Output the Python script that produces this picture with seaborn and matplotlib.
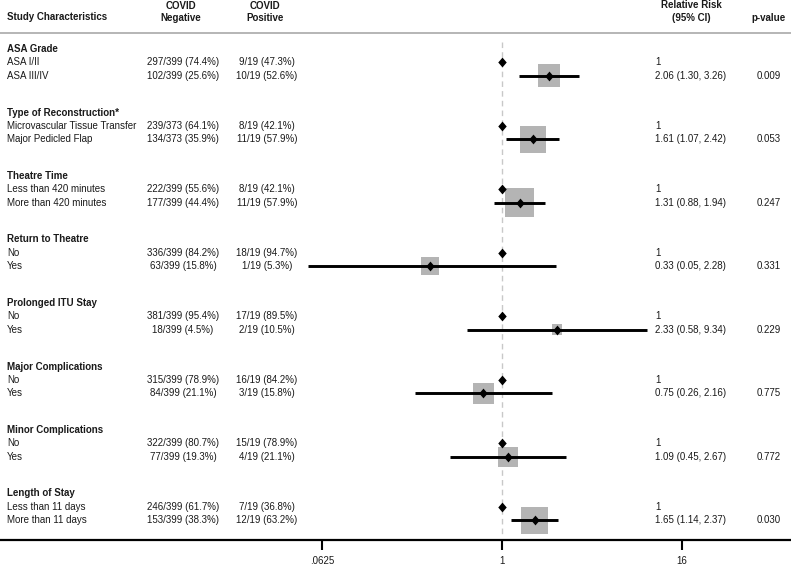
import numpy as np
import pandas as pd
import matplotlib
matplotlib.use("Agg")
import matplotlib.pyplot as plt
import seaborn as sns

# data
groups = ["ASA Grade", "Type of Reconstruction*", "Theatre Time", "Return to Theatre",
          "Prolonged ITU Stay", "Major Complications", "Minor Complications", "Length of Stay"]
ref_labels = ["ASA I/II", "Microvascular Tissue Transfer", "Less than 420 minutes",
              "No", "No", "No", "No", "Less than 11 days"]
cmp_labels = ["ASA III/IV", "Major Pedicled Flap", "More than 420 minutes",
              "Yes", "Yes", "Yes", "Yes", "More than 11 days"]
neg_ref = ["297/399 (74.4%)", "239/373 (64.1%)", "222/399 (55.6%)", "336/399 (84.2%)",
           "381/399 (95.4%)", "315/399 (78.9%)", "322/399 (80.7%)", "246/399 (61.7%)"]
neg_cmp = ["102/399 (25.6%)", "134/373 (35.9%)", "177/399 (44.4%)", "63/399 (15.8%)",
           "18/399 (4.5%)", "84/399 (21.1%)", "77/399 (19.3%)", "153/399 (38.3%)"]
pos_ref = ["9/19 (47.3%)", "8/19 (42.1%)", "8/19 (42.1%)", "18/19 (94.7%)",
           "17/19 (89.5%)", "16/19 (84.2%)", "15/19 (78.9%)", "7/19 (36.8%)"]
pos_cmp = ["10/19 (52.6%)", "11/19 (57.9%)", "11/19 (57.9%)", "1/19 (5.3%)",
           "2/19 (10.5%)", "3/19 (15.8%)", "4/19 (21.1%)", "12/19 (63.2%)"]
rr = [2.06, 1.61, 1.31, 0.33, 2.33, 0.75, 1.09, 1.65]
rr_lo = [1.30, 1.07, 0.88, 0.05, 0.58, 0.26, 0.45, 1.14]
rr_hi = [3.26, 2.42, 1.94, 2.28, 9.34, 2.16, 2.67, 2.37]
pvals = ["0.009", "0.053", "0.247", "0.331", "0.229", "0.775", "0.772", "0.030"]
weights = [12.6, 17.5, 20.6, 7.9, 2.8, 10.8, 9.8, 17.9]
tick_vals = [0.0625, 1, 16]
tick_labels = [".0625", "1", "16"]

sns.set_style("white")
plt.rcParams['font.family'] = ['Liberation Sans', 'DejaVu Sans']
plt.rcParams['font.size'] = 7

W, H = 791, 565
fig = plt.figure(figsize=(W / 100, H / 100), dpi=100)
ax = fig.add_axes([0, 0, 1, 1])
ax.set_xscale('log', base=2)
# 1 sits at x=502px, 45px per doubling; y runs in pixel rows from the top
ax.set_xlim(2 ** (-502 / 45), 2 ** ((W - 502) / 45))
ax.set_ylim(H, 0)
ax.axis('off')

# layout of rows
g_idx = np.arange(len(groups))
y_title = 49 + 63.5 * g_idx
y_ref = y_title + 13.3
y_cmp = y_title + 26.7

df = pd.DataFrame({'rr': rr, 'lo': rr_lo, 'hi': rr_hi, 'w': weights, 'y': y_cmp})
ref_df = pd.DataFrame({'rr': np.ones(len(groups)), 'y': y_ref})

# slightly tall diamond like the stata one
diamond = [(0, -1.1), (0.95, 0), (0, 1.1), (-0.95, 0), (0, -1.1)]

# reference line at RR = 1
ax.vlines(1, 42, 536, color='#c8c8c8', lw=1, linestyles=(0, (4, 3)), zorder=1)

# weight boxes
k = 21.2
sns.scatterplot(data=df, x='rr', y='y', size='w',
                sizes=(min(weights) * k, max(weights) * k),
                marker='s', color='#b4b4b4', linewidth=0, legend=False, ax=ax, zorder=2)
# confidence intervals
ax.hlines(df['y'], df['lo'], df['hi'], color='black', lw=2.1, zorder=3)
# point estimates
sns.scatterplot(data=df, x='rr', y='y', marker=diamond, s=50, color='black',
                linewidth=0, legend=False, ax=ax, zorder=4)
sns.scatterplot(data=ref_df, x='rr', y='y', marker=diamond, s=50, color='black',
                linewidth=0, legend=False, ax=ax, zorder=4)

tr = ax.get_yaxis_transform()
tc = '#1a1a1a'

def txt(xpx, y, s, ha='left', bold=False):
    ax.text(xpx / W, y, s, transform=tr, ha=ha, va='center', color=tc,
            fontweight='bold' if bold else 'normal')

# header
txt(7, 17.5, "Study Characteristics", bold=True)
txt(181, 6, "COVID", ha='center', bold=True)
txt(181, 18, "Negative", ha='center', bold=True)
txt(265, 6, "COVID", ha='center', bold=True)
txt(265, 18, "Positive", ha='center', bold=True)
txt(691, 5, "Relative Risk", ha='center', bold=True)
txt(691, 18, "(95% CI)", ha='center', bold=True)
txt(769, 18, "p-value", ha='center', bold=True)
ax.axhline(33, color='#b0b0b0', lw=1.3)

for i in g_idx:
    txt(7, y_title[i], groups[i], bold=True)
    txt(7, y_ref[i], ref_labels[i])
    txt(7, y_cmp[i], cmp_labels[i])
    txt(183, y_ref[i], neg_ref[i], ha='center')
    txt(183, y_cmp[i], neg_cmp[i], ha='center')
    txt(267, y_ref[i], pos_ref[i], ha='center')
    txt(267, y_cmp[i], pos_cmp[i], ha='center')
    txt(655, y_ref[i], "1")
    txt(655, y_cmp[i], f"{rr[i]:.2f} ({rr_lo[i]:.2f}, {rr_hi[i]:.2f})")
    txt(769, y_cmp[i], pvals[i], ha='center')

# bottom axis
ax.axhline(540, color='black', lw=1.6)
ax.vlines(tick_vals, 540, 550, color='black', lw=1.5)
for v, lab in zip(tick_vals, tick_labels):
    ax.text(v, 561, lab, ha='center', va='center', color=tc)

fig.savefig('out.png', dpi=100)
